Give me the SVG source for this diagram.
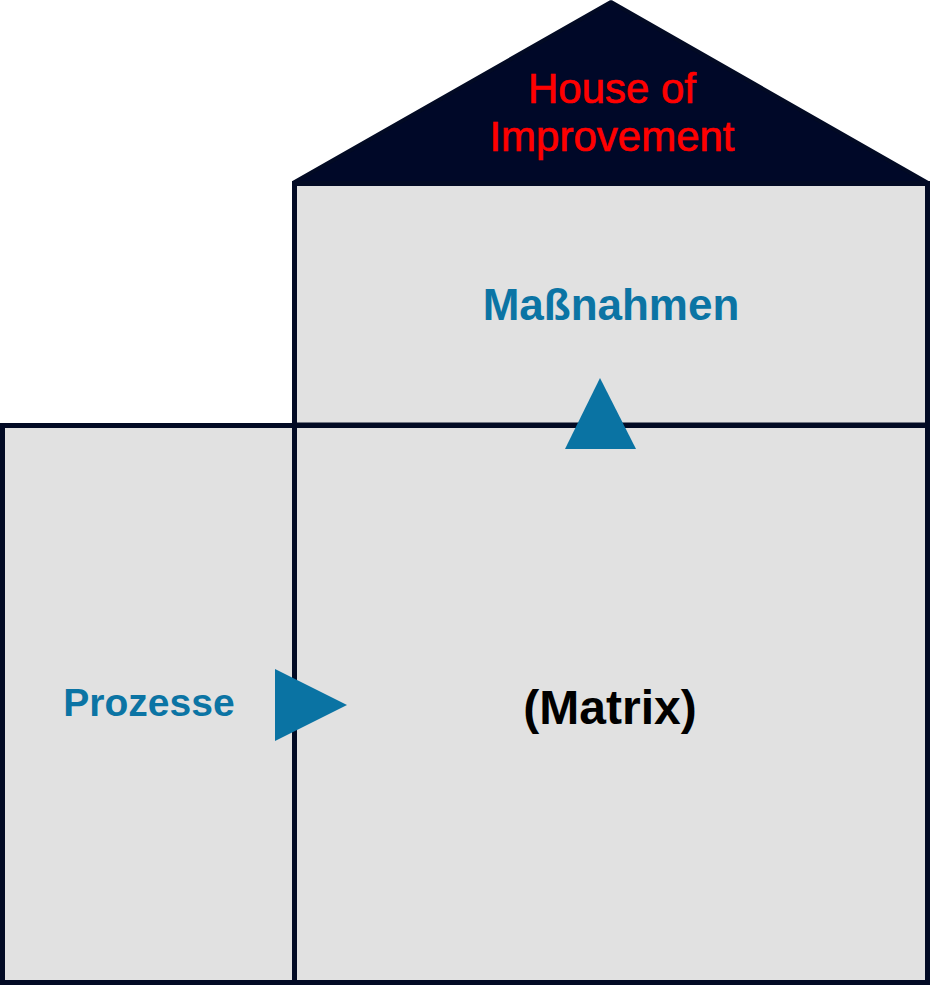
<svg xmlns="http://www.w3.org/2000/svg" width="930" height="986" viewBox="0 0 930 986">
<style>
.box{fill:#e1e1e1;stroke:#020a24;stroke-width:5}
.roof{fill:#000828;stroke:#020a24;stroke-width:4;stroke-linejoin:bevel}
.arrow{fill:#0a73a3}
.lbl{font-family:"Liberation Sans",Arial,sans-serif;font-weight:bold;text-anchor:middle}
.blue{fill:#0b74a4}
.red{fill:#ff0000;font-weight:normal;stroke:#ff0000;stroke-width:0.7}
</style>
<g id="roof">
<polygon class="roof" points="611,2 293,183 928,183"/>
<text class="lbl red" x="612" y="103" font-size="42">House of</text>
<text class="lbl red" x="612" y="151" font-size="42">Improvement</text>
</g>
<g id="massnahmen">
<rect class="box" x="294.5" y="183.5" width="633" height="241.5"/>
<text class="lbl blue" x="611" y="320" font-size="44">Maßnahmen</text>
</g>
<g id="prozesse">
<rect class="box" x="2.5" y="425.5" width="292" height="557"/>
<text class="lbl blue" x="149" y="716" font-size="39">Prozesse</text>
</g>
<g id="matrix">
<rect class="box" x="294.5" y="425.5" width="633" height="557"/>
<text class="lbl" x="610" y="724" font-size="48" fill="#000000">(Matrix)</text>
</g>
<g id="connectors">
<polygon class="arrow" points="600,378 636,449 565,449"/>
<polygon class="arrow" points="275,669 347,705 275,741"/>
</g>
</svg>
